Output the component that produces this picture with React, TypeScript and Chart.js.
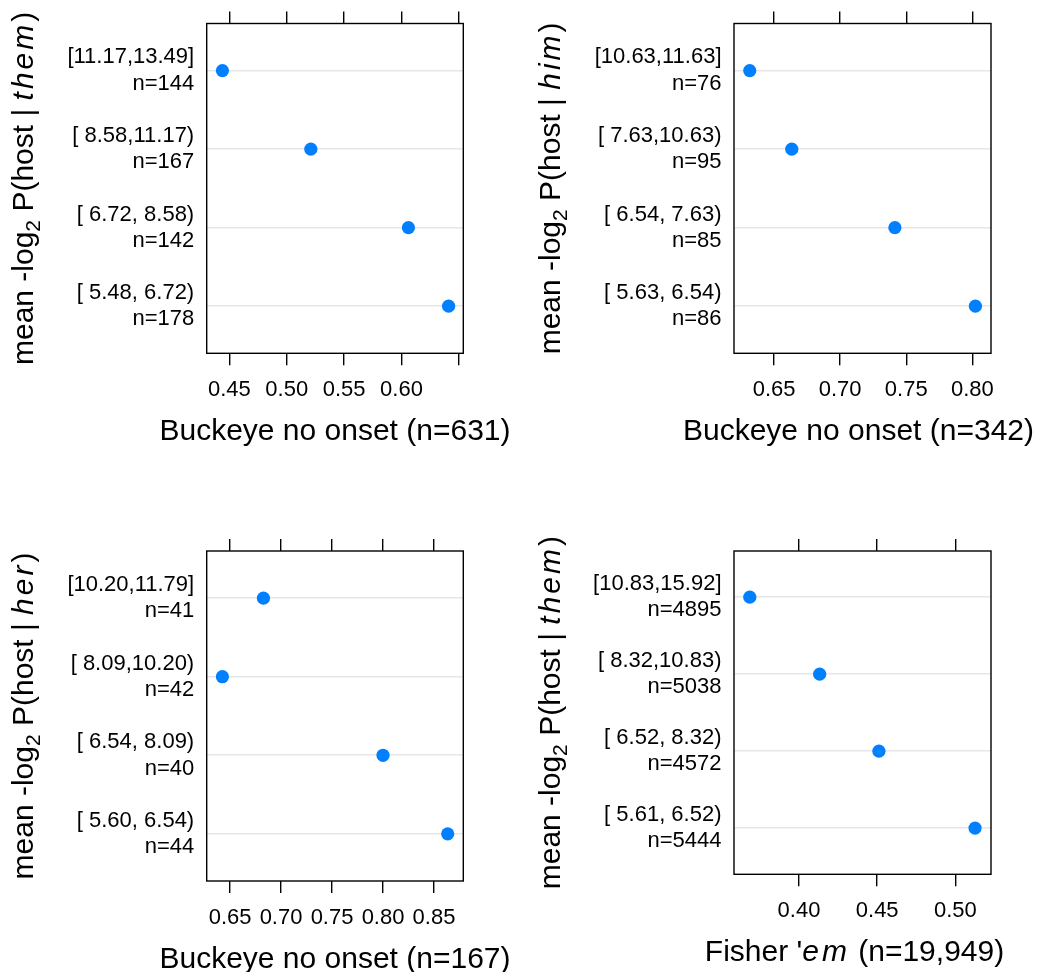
import React, { useEffect, useRef } from "react";
import { Chart, registerables } from "chart.js";

Chart.register(...registerables);

const FONT = '"Liberation Sans", Arial, Helvetica, sans-serif';

// ---------- Panel 1: Buckeye, "them" ----------
const P1_BINS = ["[11.17,13.49]", "[ 8.58,11.17)", "[ 6.72, 8.58)", "[ 5.48, 6.72)"];
const P1_COUNTS = ["n=144", "n=167", "n=142", "n=178"];
const P1_VALUES = [0.444, 0.521, 0.606, 0.641];
const P1_XTICKS = [0.45, 0.5, 0.55, 0.6, 0.65];
const P1_XLABELS = ["0.45", "0.50", "0.55", "0.60", ""];
const P1_XRANGE = [0.4303, 0.6538];
const P1_PRONOUN = "them";
const P1_XTITLE = [{ t: "Buckeye no onset (n=631)" }];

// ---------- Panel 2: Buckeye, "him" ----------
const P2_BINS = ["[10.63,11.63]", "[ 7.63,10.63)", "[ 6.54, 7.63)", "[ 5.63, 6.54)"];
const P2_COUNTS = ["n=76", "n=95", "n=85", "n=86"];
const P2_VALUES = [0.6316, 0.6634, 0.7414, 0.8023];
const P2_XTICKS = [0.65, 0.7, 0.75, 0.8];
const P2_XLABELS = ["0.65", "0.70", "0.75", "0.80"];
const P2_XRANGE = [0.6197, 0.8141];
const P2_PRONOUN = "him";
const P2_XTITLE = [{ t: "Buckeye no onset (n=342)" }];

// ---------- Panel 3: Buckeye, "her" ----------
const P3_BINS = ["[10.20,11.79]", "[ 8.09,10.20)", "[ 6.54, 8.09)", "[ 5.60, 6.54)"];
const P3_COUNTS = ["n=41", "n=42", "n=40", "n=44"];
const P3_VALUES = [0.6827, 0.6425, 0.8, 0.8634];
const P3_XTICKS = [0.65, 0.7, 0.75, 0.8, 0.85];
const P3_XLABELS = ["0.65", "0.70", "0.75", "0.80", "0.85"];
const P3_XRANGE = [0.6271, 0.8787];
const P3_PRONOUN = "her";
const P3_XTITLE = [{ t: "Buckeye no onset (n=167)" }];

// ---------- Panel 4: Fisher 'em, "them" ----------
const P4_BINS = ["[10.83,15.92]", "[ 8.32,10.83)", "[ 6.52, 8.32)", "[ 5.61, 6.52)"];
const P4_COUNTS = ["n=4895", "n=5038", "n=4572", "n=5444"];
const P4_VALUES = [0.3685, 0.4132, 0.4511, 0.5126];
const P4_XTICKS = [0.4, 0.45, 0.5];
const P4_XLABELS = ["0.40", "0.45", "0.50"];
const P4_XRANGE = [0.3584, 0.5228];
const P4_PRONOUN = "them";
const P4_XTITLE = [{ t: "Fisher '" }, { t: "em", it: true }, { t: " (n=19,949)" }];

type Seg = { t: string; it?: boolean; sub?: boolean };

const yTitle = (pronoun: string): Seg[] => [
  { t: "mean -log" },
  { t: "2", sub: true },
  { t: " P(host | " },
  { t: pronoun, it: true },
  { t: ")" },
];

const TITLE_SIZE = 30;
const ITALIC_SPACING = 3;

function segPieces(ctx: CanvasRenderingContext2D, s: Seg) {
  // italic segments are set letter by letter with extra spacing
  const parts = s.it ? s.t.split("") : [s.t];
  return parts.map((t) => ({ t, w: ctx.measureText(t).width + (s.it ? ITALIC_SPACING : 0) }));
}

function drawRich(ctx: CanvasRenderingContext2D, segs: Seg[], cx: number, cy: number, rot: number) {
  const fontFor = (s: Seg) =>
    `${s.it ? "italic " : ""}${s.sub ? Math.round(TITLE_SIZE * 0.7) : TITLE_SIZE}px ${FONT}`;
  let total = 0;
  const laid = segs.map((s) => {
    ctx.font = fontFor(s);
    const pieces = segPieces(ctx, s);
    pieces.forEach((p) => (total += p.w));
    return pieces;
  });
  ctx.save();
  ctx.translate(cx, cy);
  ctx.rotate(rot);
  ctx.fillStyle = "#000";
  ctx.textAlign = "left";
  ctx.textBaseline = "alphabetic";
  let x = -total / 2;
  segs.forEach((s, i) => {
    ctx.font = fontFor(s);
    laid[i].forEach((p) => {
      ctx.fillText(p.t, x, s.sub ? TITLE_SIZE * 0.22 : 0);
      x += p.w;
    });
  });
  ctx.restore();
}

const decorPlugin = {
  id: "panelDecor",
  afterDraw(chart: any, _args: any, opts: any) {
    const { ctx, chartArea: a } = chart;
    ctx.save();
    ctx.strokeStyle = "#000";
    ctx.lineWidth = 1.4;
    ctx.strokeRect(a.left, a.top, a.right - a.left, a.bottom - a.top);
    ctx.restore();
    drawRich(ctx, opts.xTitle, (a.left + a.right) / 2 + opts.xShift, a.bottom + opts.xBase, 0);
    drawRich(ctx, opts.yTitle, opts.yBase, (a.top + a.bottom) / 2, -Math.PI / 2);
  },
};

type PanelCfg = {
  left: number;
  top: number;
  w: number;
  h: number;
  boxL: number;
  boxR: number;
  boxT: number;
  boxB: number;
  bins: string[];
  counts: string[];
  values: number[];
  xticks: number[];
  xlabels: string[];
  xrange: number[];
  pronoun: string;
  xtitle: Seg[];
  xShift: number;
  yBase: number;
};

function Panel(p: PanelCfg) {
  const ref = useRef<HTMLCanvasElement | null>(null);
  useEffect(() => {
    if (!ref.current) return;
    const tickFont = { family: FONT, size: 22, lineHeight: 1.2 };
    const gridTicks = {
      drawOnChartArea: false,
      drawTicks: true,
      tickLength: 12,
      color: "#000",
      tickColor: "#000",
      lineWidth: 1.4,
      tickWidth: 1.4,
    };
    const xTickBuilder = (s: any) => {
      s.ticks = p.xticks.map((v) => ({ value: v }));
    };
    const chart = new Chart(ref.current, {
      type: "scatter",
      data: {
        datasets: [
          {
            data: p.values.map((v, i) => ({ x: v, y: i + 1 })),
            backgroundColor: "#0080ff",
            borderColor: "#0080ff",
            borderWidth: 0,
            pointRadius: 6.6,
            pointHoverRadius: 6.6,
          },
        ],
      },
      options: {
        responsive: false,
        animation: false,
        events: [],
        layout: { padding: { left: 0, top: 0, bottom: 0, right: p.w - p.boxR } },
        plugins: {
          legend: { display: false },
          tooltip: { enabled: false },
          panelDecor: {
            xTitle: p.xtitle,
            yTitle: yTitle(p.pronoun),
            xBase: 86.5,
            xShift: p.xShift,
            yBase: p.yBase,
          },
        } as any,
        scales: {
          x: {
            type: "linear",
            position: "bottom",
            min: p.xrange[0],
            max: p.xrange[1],
            bounds: "data",
            afterBuildTicks: xTickBuilder,
            afterFit: (s: any) => {
              s.height = p.h - p.boxB;
              s.paddingLeft = 0;
              s.paddingRight = 0;
              s.paddingTop = 0;
              s.paddingBottom = 0;
            },
            ticks: {
              callback: (_v: any, i: number) => p.xlabels[i],
              autoSkip: false,
              maxRotation: 0,
              minRotation: 0,
              padding: 11.5,
              color: "#000",
              font: tickFont,
            },
            grid: gridTicks,
            border: { display: false },
          },
          x2: {
            type: "linear",
            position: "top",
            min: p.xrange[0],
            max: p.xrange[1],
            bounds: "data",
            afterBuildTicks: xTickBuilder,
            afterFit: (s: any) => {
              s.height = p.boxT;
              s.paddingLeft = 0;
              s.paddingRight = 0;
              s.paddingTop = 0;
              s.paddingBottom = 0;
            },
            ticks: { display: false },
            grid: gridTicks,
            border: { display: false },
          },
          y: {
            type: "linear",
            position: "left",
            min: 0.4,
            max: 4.6,
            reverse: true,
            bounds: "data",
            afterBuildTicks: (s: any) => {
              s.ticks = p.bins.map((_b, i) => ({ value: i + 1 }));
            },
            afterFit: (s: any) => {
              s.width = p.boxL;
              s.paddingLeft = 0;
              s.paddingRight = 0;
              s.paddingTop = 0;
              s.paddingBottom = 0;
            },
            ticks: {
              callback: (_v: any, i: number) => [p.bins[i], p.counts[i]],
              autoSkip: false,
              padding: 12.5,
              color: "#000",
              font: tickFont,
            },
            grid: { color: "#e6e6e6", lineWidth: 1.6, drawTicks: false },
            border: { display: false },
          },
        },
      } as any,
      plugins: [decorPlugin as any],
    });
    return () => chart.destroy();
  }, []);
  return (
    <canvas
      ref={ref}
      width={p.w}
      height={p.h}
      style={{ position: "absolute", left: p.left, top: p.top, width: p.w, height: p.h }}
    />
  );
}

export default function App() {
  return (
    <div
      style={{
        position: "fixed",
        left: 0,
        top: 0,
        width: 1037,
        height: 972,
        background: "#fff",
        overflow: "hidden",
      }}
    >
      <Panel
        left={0} top={0} w={518} h={486}
        boxL={206.7} boxR={463.3} boxT={23.5} boxB={353.3}
        bins={P1_BINS} counts={P1_COUNTS} values={P1_VALUES}
        xticks={P1_XTICKS} xlabels={P1_XLABELS} xrange={P1_XRANGE}
        pronoun={P1_PRONOUN} xtitle={P1_XTITLE} xShift={0} yBase={33}
      />
      <Panel
        left={518} top={0} w={519} h={486}
        boxL={216} boxR={473} boxT={23.5} boxB={353.3}
        bins={P2_BINS} counts={P2_COUNTS} values={P2_VALUES}
        xticks={P2_XTICKS} xlabels={P2_XLABELS} xrange={P2_XRANGE}
        pronoun={P2_PRONOUN} xtitle={P2_XTITLE} xShift={-4} yBase={42}
      />
      <Panel
        left={0} top={486} w={518} h={486}
        boxL={206.7} boxR={463.3} boxT={65} boxB={395}
        bins={P3_BINS} counts={P3_COUNTS} values={P3_VALUES}
        xticks={P3_XTICKS} xlabels={P3_XLABELS} xrange={P3_XRANGE}
        pronoun={P3_PRONOUN} xtitle={P3_XTITLE} xShift={0} yBase={33}
      />
      <Panel
        left={518} top={486} w={519} h={486}
        boxL={216} boxR={473} boxT={65} boxB={388.3}
        bins={P4_BINS} counts={P4_COUNTS} values={P4_VALUES}
        xticks={P4_XTICKS} xlabels={P4_XLABELS} xrange={P4_XRANGE}
        pronoun={P4_PRONOUN} xtitle={P4_XTITLE} xShift={-8} yBase={42}
      />
    </div>
  );
}
